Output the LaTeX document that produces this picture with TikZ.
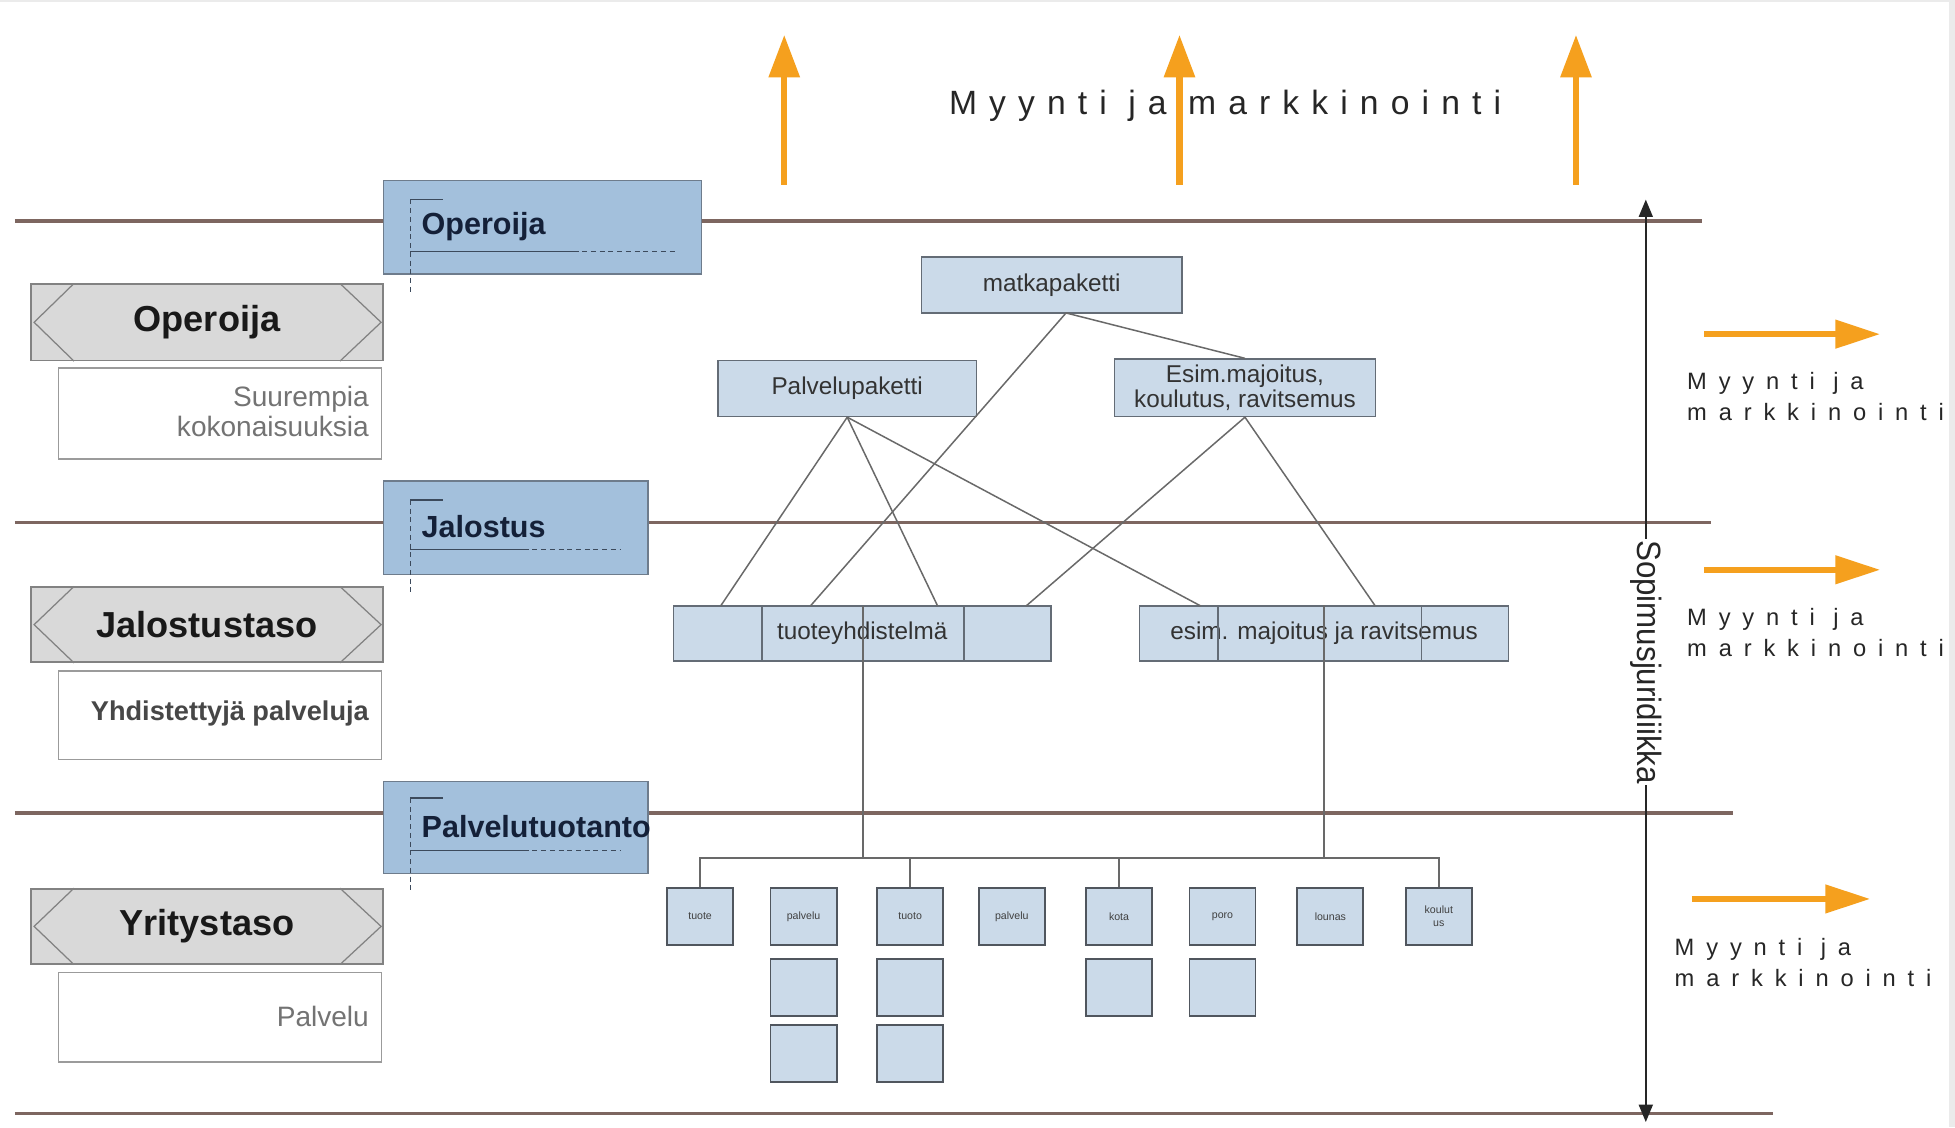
\documentclass[tikz,border=0pt]{standalone}
\usepackage{fontspec}
\usepackage{graphicx}
\setmainfont{Liberation Sans}
\newfontfamily\spacedtop[LetterSpace=36]{Liberation Sans}
\newfontfamily\spacedright[LetterSpace=50]{Liberation Sans}
\usetikzlibrary{arrows.meta,calc}
\definecolor{lvl}{RGB}{125,102,96}
\definecolor{hdrfill}{RGB}{163,192,220}
\definecolor{hdrdraw}{RGB}{110,124,140}
\definecolor{hdrtxt}{RGB}{20,32,56}
\definecolor{brk}{RGB}{60,74,92}
\definecolor{treefill}{RGB}{203,218,233}
\definecolor{treedraw}{RGB}{100,108,118}
\definecolor{grayfill}{RGB}{217,217,217}
\definecolor{graydraw}{RGB}{130,130,130}
\definecolor{orng}{RGB}{245,160,30}
\definecolor{conn}{RGB}{105,105,105}
\tikzset{
  lvline/.style={line width=3pt, draw=lvl},
  hdrbox/.style={draw=hdrdraw, fill=hdrfill, line width=1.3pt, anchor=north west, inner sep=0pt},
  hdrtext/.style={anchor=west, text=hdrtxt, font=\fontsize{24.5}{28}\selectfont\bfseries, inner sep=0pt},
  brksolid/.style={draw=brk, line width=1pt},
  brkdash/.style={draw=brk, line width=1pt, dash pattern=on 4pt off 3pt},
  graybox/.style={draw=graydraw, fill=grayfill, line width=1.3pt, minimum width=282pt, inner sep=0pt},
  graytext/.style={font=\fontsize{29}{32}\selectfont\bfseries, text=black!90},
  chev/.style={draw=graydraw, line width=1pt},
  whitebox/.style={draw=graydraw!80, fill=white, line width=1.3pt, minimum width=259pt, inner sep=0pt},
  whitetext/.style={anchor=east, align=right, text=black!55, font=\fontsize{22.5}{23.5}\selectfont, inner sep=0pt},
  treebox/.style={draw=treedraw, fill=treefill, line width=1.2pt, inner sep=0pt, align=center, font=\fontsize{19.5}{21}\selectfont, text=black!80},
  smallbox/.style={draw=treedraw!80!black, fill=treefill, line width=1.5pt, minimum width=53pt, minimum height=46pt, inner sep=0pt, align=center, font=\fontsize{8.5}{10}\selectfont, text=black!75},
  conline/.style={draw=conn, line width=1.2pt},
  orarrow/.style={draw=orng, line width=5pt, -{Triangle[length=34pt,width=24pt]}},
  orarrowh/.style={draw=orng, line width=5pt, -{Triangle[length=36pt,width=22pt]}},
  mmtext/.style={anchor=west, align=left, font=\fontsize{19}{25}\selectfont\spacedright, text=black!85, inner sep=0pt},
}
\begin{document}
\begin{tikzpicture}[x=1pt,y=-1pt]
\useasboundingbox (0,0) rectangle (1568,904);
\fill[white] (0,0) rectangle (1568,904);
\fill[black!8] (1563,0) rectangle (1568,904);
\fill[black!8] (0,0) rectangle (1568,2);

% level lines
\coordinate (l1a) at (12,177); \coordinate (l1b) at (1365,177);
\coordinate (l2a) at (12,419); \coordinate (l2b) at (1372,419);
\coordinate (l3a) at (12,652); \coordinate (l3b) at (1390,652);
\coordinate (l4a) at (12,893); \coordinate (l4b) at (1422,893);
\draw[lvline] (l1a) -- (l1b);
\draw[lvline] (l2a) -- (l2b);
\draw[lvline] (l3a) -- (l3b);
\draw[lvline] (l4a) -- (l4b);

% header boxes
\node[hdrbox, minimum width=255pt, minimum height=75pt] (h1) at (307,144) {};
\node[hdrbox, minimum width=212pt, minimum height=75pt] (h2) at (307,385) {};
\node[hdrbox, minimum width=212pt, minimum height=74pt] (h3) at (307,626) {};
% brackets
\draw[brkdash] ($(h1.north west)+(22,16)$) -- ($(h1.south west)+(22,16)$);
\draw[brksolid] ($(h1.north west)+(22,16)$) -- ++(26,0);
\draw[brksolid] ($(h1.north west)+(22,58)$) -- ++(131,0);
\draw[brkdash] ($(h1.north west)+(153,58)$) -- ++(81,0);
\draw[brkdash] ($(h2.north west)+(22,16)$) -- ($(h2.south west)+(22,15)$);
\draw[brksolid] ($(h2.north west)+(22,16)$) -- ++(26,0);
\draw[brksolid] ($(h2.north west)+(22,56)$) -- ++(91,0);
\draw[brkdash] ($(h2.north west)+(113,56)$) -- ++(78,0);
\draw[brkdash] ($(h3.north west)+(22,14)$) -- ($(h3.south west)+(22,15)$);
\draw[brksolid] ($(h3.north west)+(22,14)$) -- ++(26,0);
\draw[brksolid] ($(h3.north west)+(22,56)$) -- ++(91,0);
\draw[brkdash] ($(h3.north west)+(113,56)$) -- ++(78,0);
\node[hdrtext] (h1t) at (338,182) {Operoija};
\node[hdrtext] (h2t) at (338,422) {Jalostus};
\node[hdrtext] (h3t) at (338,663) {Palvelutuotanto};

% gray level boxes
\foreach \n/\cy/\hh/\t in {g1/258.5/61/Operoija, g2/501/60/Jalostustaso, g3/743/60/Yritystaso}{
  \node[graybox, minimum height=\hh pt] (\n) at (166,\cy) {};
  \draw[chev] ($(\n.north west)+(35,0)$) -- ($(\n.west)+(3,0)$) -- ($(\n.south west)+(35,0)$);
  \draw[chev] ($(\n.north east)+(-35,0)$) -- ($(\n.east)+(-2,0)$) -- ($(\n.south east)+(-35,0)$);
  \node[graytext] (\n t) at (\n) {\t};
}
% white description boxes
\node[whitebox, minimum height=73pt] (w1) at (176.5,331.5) {};
\node[whitebox, minimum height=71pt] (w2) at (176.5,573.5) {};
\node[whitebox, minimum height=72pt] (w3) at (176.5,816) {};
\node[whitetext] (w1t) at (296,330) {Suurempia\\kokonaisuuksia};
\node[whitetext, text=black!72, font=\fontsize{21.8}{24}\selectfont\bfseries] (w2t) at (296,572) {Yhdistettyjä palveluja};
\node[whitetext] (w3t) at (296,815) {Palvelu};

% top orange arrows and text
\foreach \i/\x in {1/629,2/946,3/1264}{
  \coordinate (ua\i s) at (\x,148);
  \coordinate (ua\i e) at (\x,28);
  \draw[orarrow] (ua\i s) -- (ua\i e);
}
\node[anchor=west, inner sep=0pt, font=\fontsize{27}{29}\selectfont\spacedtop, text=black!85] (mmtop) at (761,85) {Myynti ja markkinointi};

% right orange arrows and texts
\coordinate (ra1s) at (1367,268); \coordinate (ra1e) at (1508,268);
\coordinate (ra2s) at (1367,457); \coordinate (ra2e) at (1508,457);
\coordinate (ra3s) at (1357,721); \coordinate (ra3e) at (1500,721);
\draw[orarrowh] (ra1s) -- (ra1e);
\draw[orarrowh] (ra2s) -- (ra2e);
\draw[orarrowh] (ra3s) -- (ra3e);
\node[mmtext] (mm1) at (1353,318) {Myynti ja\\markkinointi};
\node[mmtext] (mm2) at (1353,507) {Myynti ja\\markkinointi};
\node[mmtext] (mm3) at (1343,772) {Myynti ja\\markkinointi};

% contract law axis
\coordinate (va) at (1320,160);
\coordinate (vb) at (1320,900);
\draw[line width=2pt, black!85, {Triangle[length=14pt,width=11pt]}-{Triangle[length=14pt,width=11pt]}] (va) -- (vb);
\node[rotate=-90, fill=white, inner xsep=1pt, inner ysep=0pt, font=\fontsize{27}{29}\selectfont, text=black!85] (sop) at (1320,531) {\scalebox{0.93}[1]{Sopimusjuridiikka}};

% tree
\node[treebox, minimum width=209pt, minimum height=45pt] (mk) at (843.5,228.5) {matkapaketti};
\node[treebox, minimum width=207pt, minimum height=45pt] (pp) at (679.5,311.5) {Palvelupaketti};
\node[treebox, minimum width=209pt, minimum height=46pt, font=\fontsize{19.5}{20}\selectfont] (es) at (998.5,311) {Esim.majoitus,\\koulutus, ravitsemus};
\node[treebox, minimum width=303pt, minimum height=44pt] (tg) at (691.5,508) {tuoteyhdistelmä};
\node[treebox, minimum width=296pt, minimum height=44pt] (eg) at (1062,508) {esim. majoitus ja ravitsemus};
\draw[treedraw, line width=1.2pt] (611,486) -- (611,530) (773,486) -- (773,530);
\draw[treedraw, line width=1.2pt] (977,486) -- (977,530) (1140,486) -- (1140,530);

\coordinate (t1) at (578,486);
\coordinate (t2) at (650,486);
\coordinate (t3) at (752,486);
\coordinate (t4) at (823,486);
\coordinate (e1) at (963,486);
\coordinate (e2) at (1103,486);
\coordinate (mkb) at (855,251);
\coordinate (tgtop) at (692,486);
\draw[conline] (mkb) -- (es.north);
\draw[conline] (mkb) -- (t2);
\draw[conline] (pp.south) -- (t1);
\draw[conline] (pp.south) -- (t3);
\draw[conline] (pp.south) -- (e1);
\draw[conline] (es.south) -- (t4);
\draw[conline] (es.south) -- (e2);

% small boxes
\node[smallbox] (s1) at (561.5,735) {tuote};
\node[smallbox] (s2) at (644.5,735) {palvelu};
\node[smallbox] (s3) at (730,735) {tuoto};
\node[smallbox] (s4) at (811.5,735) {palvelu};
\node[smallbox] (s5) at (897.5,735) {kota};
\node[smallbox] (s6) at (980.5,735) {poro};
\node[smallbox] (s7) at (1067,735) {lounas};
\node[smallbox] (s8) at (1154,735) {koulut\\us};
\node[smallbox] (s2b) at (644.5,792) {};
\node[smallbox] (s2c) at (644.5,845) {};
\node[smallbox] (s3b) at (730,792) {};
\node[smallbox] (s3c) at (730,845) {};
\node[smallbox] (s5b) at (897.5,792) {};
\node[smallbox] (s6b) at (980.5,792) {};

% bus
\coordinate (bus) at (561,688);
\draw[conline] (s1.north) -- (s1.north |- bus) -| (s8.north);
\draw[conline] (tgtop) -- (tgtop |- bus);
\draw[conline] (eg.north) -- (eg.north |- bus);
\draw[conline] (s3.north) -- (s3.north |- bus);
\draw[conline] (s5.north) -- (s5.north |- bus);
\end{tikzpicture}
\end{document}
